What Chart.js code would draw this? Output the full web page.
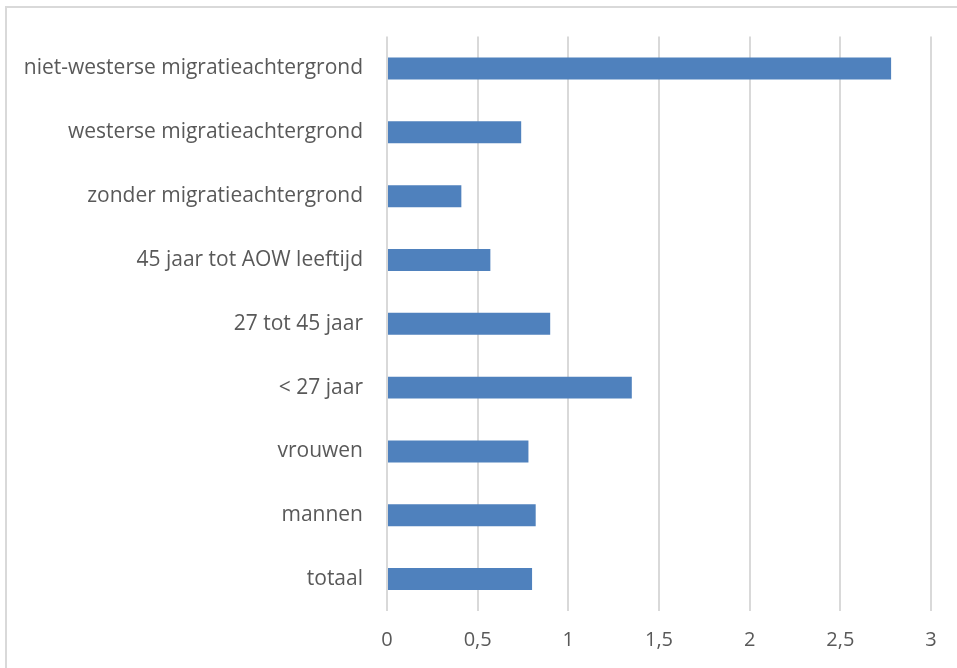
<!DOCTYPE html>
<html>
<head>
<meta charset="utf-8">
<script src="https://cdn.jsdelivr.net/npm/chart.js@4/dist/chart.umd.min.js"></script>
<style>
  html, body { margin: 0; padding: 0; background: #ffffff; }
  #wrap { position: absolute; left: 0; top: 0; width: 957px; height: 668px; }
</style>
</head>
<body>
<div id="wrap"><canvas id="c" width="957" height="668"></canvas></div>
<script>
const categories = [
  "niet-westerse migratieachtergrond",
  "westerse migratieachtergrond",
  "zonder migratieachtergrond",
  "45 jaar tot AOW leeftijd",
  "27 tot 45 jaar",
  "< 27 jaar",
  "vrouwen",
  "mannen",
  "totaal"
];
const values = [2.78, 0.74, 0.41, 0.57, 0.90, 1.35, 0.78, 0.82, 0.80];
const xTicks = [0, 0.5, 1, 1.5, 2, 2.5, 3];

const frame = {
  id: 'frame',
  beforeDraw(chart) {
    const ctx = chart.ctx;
    ctx.save();
    ctx.fillStyle = '#ffffff';
    ctx.fillRect(0, 0, chart.width, chart.height);
    ctx.strokeStyle = '#d9d9d9';
    ctx.lineWidth = 2;
    ctx.beginPath();
    ctx.moveTo(6, chart.height + 5);
    ctx.lineTo(6, 7);
    ctx.lineTo(chart.width + 5, 7);
    ctx.stroke();
    ctx.restore();
  }
};

new Chart(document.getElementById('c'), {
  type: 'bar',
  data: {
    labels: categories,
    datasets: [{
      data: values,
      backgroundColor: '#4f81bd',
      borderColor: '#4f81bd',
      borderWidth: 0,
      barPercentage: 0.344,
      categoryPercentage: 1
    }]
  },
  options: {
    indexAxis: 'y',
    responsive: false,
    animation: false,
    layout: { padding: { top: 36, right: 26, left: 0, bottom: 0 } },
    plugins: { legend: { display: false }, tooltip: { enabled: false } },
    scales: {
      x: {
        min: 0,
        max: 3,
        afterBuildTicks(scale) { scale.ticks = xTicks.map(v => ({ value: v })); },
        afterFit(scale) { scale.height = 668 - 611; },
        border: { display: false },
        grid: { color: '#d9d9d9', lineWidth: 2, drawTicks: false },
        ticks: {
          padding: 17,
          color: '#595959',
          font: { family: 'Open Sans', size: 20 },
          callback: v => String(v).replace('.', ',')
        }
      },
      y: {
        afterFit(scale) { scale.width = 387; },
        border: { display: false },
        grid: { display: false, drawTicks: false },
        ticks: {
          padding: 24,
          color: '#595959',
          font: { family: 'Open Sans', size: 21 }
        }
      }
    }
  },
  plugins: [frame]
});
</script>
</body>
</html>
